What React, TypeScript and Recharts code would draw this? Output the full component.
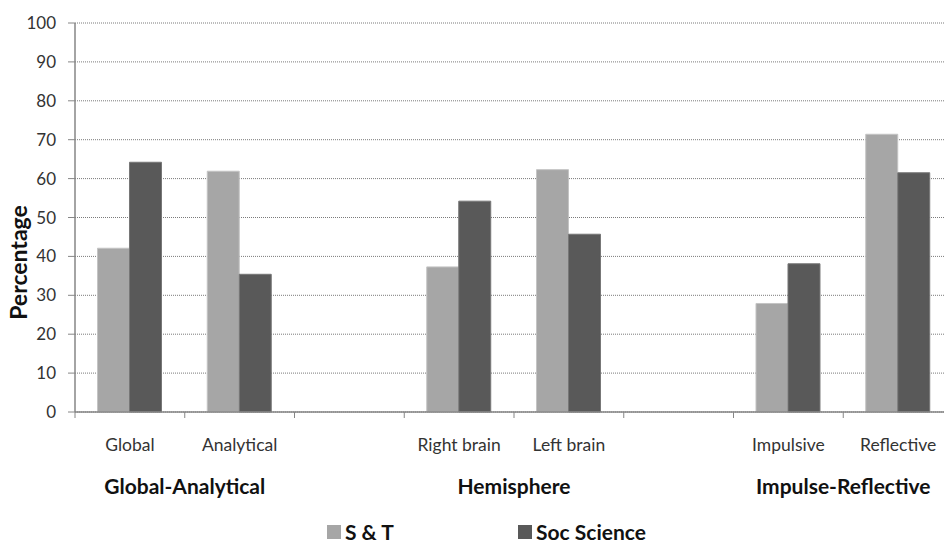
import React from 'react';
import { BarChart, Bar, XAxis, YAxis, CartesianGrid, Legend } from 'recharts';

const categories = ['Global', 'Analytical', '', 'Right brain', 'Left brain', '', 'Impulsive', 'Reflective'];
const stValues = [42.1, 61.9, null, 37.3, 62.3, null, 27.9, 71.4];
const socValues = [64.2, 35.4, null, 54.2, 45.7, null, 38.1, 61.5];
const groupLabels = ['Global-Analytical', 'Hemisphere', 'Impulse-Reflective'];
const groupStarts = [0, 3, 6];
const yTicks = [0, 10, 20, 30, 40, 50, 60, 70, 80, 90, 100];
const seriesNames = ['S & T', 'Soc Science'];

const FONT = "Lato, 'Liberation Sans', sans-serif";
const ST_COLOR = '#a6a6a6';
const SOC_COLOR = '#595959';
const AXIS_COLOR = '#868686';

const data = categories.map((c, i) => ({
  key: 'c' + i,
  label: c,
  st: stValues[i],
  soc: socValues[i],
}));

const CHART_W = 960;
const CHART_H = 546;
const MARGIN = { top: 23, right: 7, left: 0, bottom: 0 };
const Y_W = 75;

const XTick = (props: any) => {
  const { x, y, payload } = props;
  const idx: number = payload.index ?? props.index;
  const plotW = CHART_W - MARGIN.left - MARGIN.right - Y_W;
  const half: number = payload.offset ? payload.offset : plotW / categories.length / 2;
  const g = groupStarts.indexOf(idx);
  return (
    <g>
      <line x1={x - half} x2={x - half} y1={y} y2={y + 6} stroke={AXIS_COLOR} strokeWidth={1} />
      {idx === categories.length - 1 && (
        <line x1={x + half} x2={x + half} y1={y} y2={y + 6} stroke={AXIS_COLOR} strokeWidth={1} />
      )}
      <text x={x} y={y + 39} textAnchor="middle" fontFamily={FONT} fontSize={17.5} fill="#333">
        {categories[idx]}
      </text>
      {g >= 0 && (
        <text x={x + half} y={y + 82} textAnchor="middle" fontFamily={FONT} fontSize={21} fontWeight="bold" fill="#111">
          {groupLabels[g]}
        </text>
      )}
    </g>
  );
};

const YLabel = (props: any) => {
  const vb = props.viewBox || { x: 0, y: 23, width: 75, height: 389 };
  const cx = vb.x + 18;
  const cy = vb.y + vb.height / 2 + 45;
  return (
    <text
      x={cx}
      y={cy}
      transform={`rotate(-90, ${cx}, ${cy})`}
      textAnchor="middle"
      dominantBaseline="central"
      fontFamily={FONT}
      fontSize={23}
      fontWeight="bold"
      fill="#111"
    >
      Percentage
    </text>
  );
};

const LegendContent = (props: any) => {
  const payload = props.payload || [];
  return (
    <div style={{ display: 'flex', fontFamily: FONT }}>
      {payload.map((entry: any, i: number) => (
        <div key={i} style={{ display: 'flex', alignItems: 'center', width: 191 }}>
          <div style={{ width: 14, height: 14, background: entry.color, marginRight: 4 }} />
          <span style={{ fontSize: 21, fontWeight: 'bold', color: '#111', lineHeight: '22px' }}>{entry.value}</span>
        </div>
      ))}
    </div>
  );
};

export default function App() {
  return (
    <div style={{ position: 'absolute', left: 0, top: 0, width: 944, height: 546, overflow: 'hidden', background: '#fff' }}>
      <BarChart width={CHART_W} height={CHART_H} data={data} margin={MARGIN} barCategoryGap="20.5%" barGap={0}>
        <CartesianGrid vertical={false} stroke="#7a7a7a" strokeDasharray="1 1" />
        <XAxis
          dataKey="key"
          interval={0}
          height={134}
          tickSize={0}
          tickMargin={0}
          tickLine={false}
          axisLine={{ stroke: AXIS_COLOR, strokeWidth: 1.5 }}
          tick={<XTick />}
        />
        <YAxis
          width={Y_W}
          domain={[0, 100]}
          ticks={yTicks}
          interval={0}
          tickSize={7}
          tickMargin={12}
          axisLine={{ stroke: AXIS_COLOR, strokeWidth: 1.5 }}
          tickLine={{ stroke: AXIS_COLOR }}
          tick={{ fill: '#333', fontSize: 17, fontFamily: FONT }}
          label={<YLabel />}
        />
        <Legend
          layout="vertical"
          align="center"
          verticalAlign="middle"
          wrapperStyle={{ position: 'absolute', left: 327, top: 521, width: 420, height: 24 }}
          content={<LegendContent />}
        />
        <Bar dataKey="st" name={seriesNames[0]} fill={ST_COLOR} stroke="#c4c4c4" strokeWidth={1} isAnimationActive={false} />
        <Bar dataKey="soc" name={seriesNames[1]} fill={SOC_COLOR} stroke="#777" strokeWidth={1} isAnimationActive={false} />
      </BarChart>
    </div>
  );
}
